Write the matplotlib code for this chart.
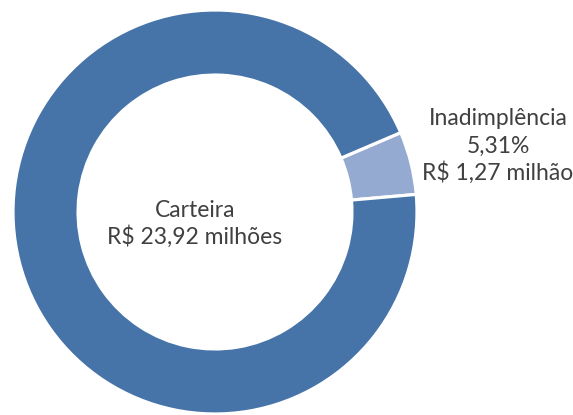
import matplotlib
matplotlib.use("Agg")
import matplotlib.pyplot as plt

# Data
categories = ["Inadimplência", "Carteira"]
values = [1.27, 23.92]
colors = ["#95aad1", "#4673a8"]
label_carteira = ["Carteira", "R$ 23,92 milhões"]
label_inad = ["Inadimplência", "5,31%", "R$ 1,27 milhão"]

W, H, DPI = 573, 415, 100
cx, cy, R = 215.0, 212.0, 202.0

plt.rcParams['font.family'] = ['Lato', 'DejaVu Sans']

fig = plt.figure(figsize=(W / DPI, H / DPI), dpi=DPI)
ax = fig.add_axes([0, 0, 1, 1])
ax.pie(values, colors=colors, startangle=5, counterclock=True, radius=1.0,
       wedgeprops=dict(width=0.322, edgecolor="white", linewidth=2.3))
ax.set_xlim(-cx / R, (W - cx) / R)
ax.set_ylim(-(H - cy) / R, cy / R)
ax.set_aspect('equal', adjustable='box')
ax.axis('off')


def px(x, y):
    return (x - cx) / R, (cy - y) / R


txt_color = "#404040"
fs = 16.5
for line, base in zip(label_carteira, [216.7, 244.2]):
    x, y = px(195, base)
    ax.text(x, y, line, ha='center', va='baseline', fontsize=fs, color=txt_color)

for line, base in zip(label_inad, [125, 152.5, 180]):
    x, y = px(498, base)
    ax.text(x, y, line, ha='center', va='baseline', fontsize=fs, color=txt_color)

fig.savefig("out.png", dpi=DPI)
